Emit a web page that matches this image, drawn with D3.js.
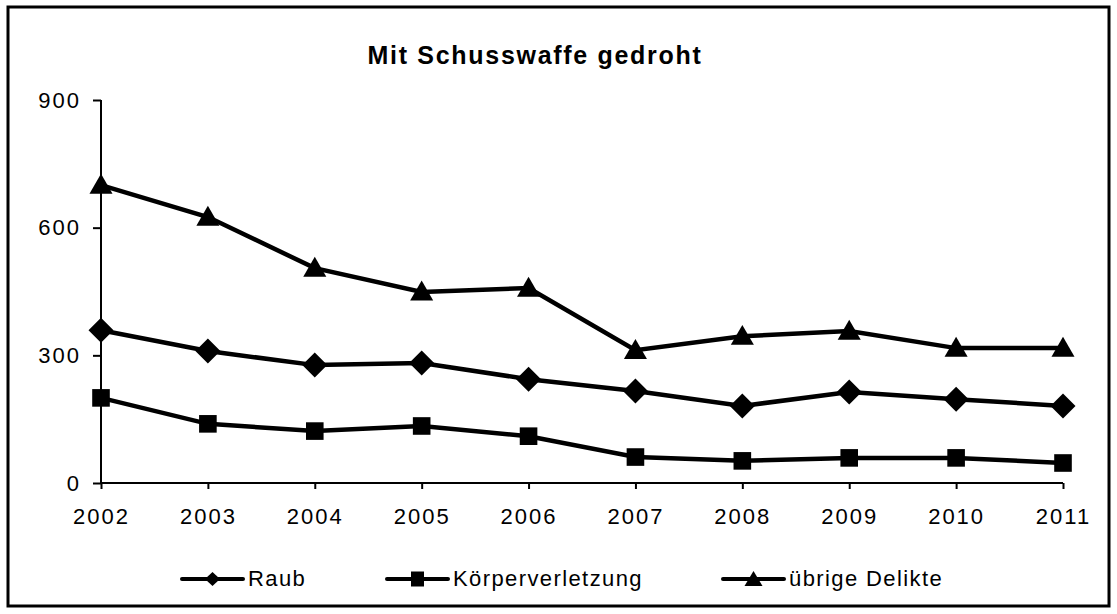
<!DOCTYPE html>
<html>
<head>
<meta charset="utf-8">
<script src="https://cdn.jsdelivr.net/npm/d3@7"></script>
<style>
  body { margin: 0; background: #fff; }
  svg text { font-family: "Liberation Sans", Arial, sans-serif; fill: #000; }
</style>
</head>
<body>
<div id="chart"></div>
<script>
var years = ["2002", "2003", "2004", "2005", "2006", "2007", "2008", "2009", "2010", "2011"];
var raub = [359, 310, 277, 282, 244, 216, 181, 214, 197, 181];
var koerperverletzung = [200, 139, 122, 134, 110, 61, 52, 59, 59, 47];
var uebrige = [700, 625, 505, 449, 458, 312, 345, 357, 317, 317];
var yTicks = [0, 300, 600, 900];

var series = [
    {name: "Raub", values: raub, symbol: "diamond"},
    {name: "Körperverletzung", values: koerperverletzung, symbol: "square"},
    {name: "übrige Delikte", values: uebrige, symbol: "triangle"}
];

var width = 1117, height = 614;
var svg = d3.select("#chart").append("svg")
    .attr("width", width)
    .attr("height", height);

svg.append("rect")
    .attr("x", 8).attr("y", 7)
    .attr("width", 1101).attr("height", 599)
    .attr("fill", "none")
    .attr("stroke", "#000")
    .attr("stroke-width", 3);

svg.append("text")
    .attr("x", 535).attr("y", 64)
    .attr("text-anchor", "middle")
    .attr("font-size", 25)
    .attr("font-weight", "bold")
    .attr("letter-spacing", 1.7)
    .text("Mit Schusswaffe gedroht");

var x = d3.scalePoint().domain(years).range([101, 1063]);
var y = d3.scaleLinear().domain([0, 900]).range([483, 100]);

var xAxis = svg.append("g")
    .attr("transform", "translate(0,483)")
    .call(d3.axisBottom(x).tickSize(6).tickPadding(19));
var yAxis = svg.append("g")
    .attr("transform", "translate(101,0)")
    .call(d3.axisLeft(y).tickValues(yTicks).tickSize(8).tickPadding(12));

[xAxis, yAxis].forEach(function(ax){
    ax.select(".domain").attr("stroke", "#000").attr("stroke-width", 2);
    ax.selectAll(".tick line").attr("stroke", "#000").attr("stroke-width", 2);
    ax.selectAll(".tick text")
        .attr("font-size", 22)
        .attr("letter-spacing", 2)
        .style("font-family", "'Liberation Sans', Arial, sans-serif");
});
// domain without end caps
xAxis.select(".domain").attr("d", "M101,0H1063");
yAxis.select(".domain").attr("d", "M0,100V483");

// diamond drawn as a square turned by 45 degrees
function diamondPath(r, ry) {
    return "M0," + (-ry) + "L" + r + ",0L0," + ry + "L" + (-r) + ",0Z";
}

var symbols = {
    diamond: diamondPath(12.5, 12.5),
    square: d3.symbol().type(d3.symbolSquare).size(310)(),
    triangle: d3.symbol().type(d3.symbolTriangle).size(230)()
};

var line = d3.line()
    .x(function(d, i){ return x(years[i]); })
    .y(function(d){ return y(d); });

series.forEach(function(s){
    var g = svg.append("g");
    g.append("path")
        .attr("d", line(s.values))
        .attr("fill", "none")
        .attr("stroke", "#000")
        .attr("stroke-width", 4.5);
    g.selectAll("path.pt")
        .data(s.values).enter().append("path")
        .attr("class", "pt")
        .attr("d", symbols[s.symbol])
        .attr("transform", function(d, i){
            var dy = s.symbol === "triangle" ? 2 : 0;
            return "translate(" + x(years[i]) + "," + (y(d) + dy) + ")";
        })
        .attr("fill", "#000");
});

// legend
var legendX = [182, 387, 723];
var legendY = 579;
var legendSymbols = {
    diamond: diamondPath(7.5, 7),
    square: "M-6.5,-7.5H6.5V7.5H-6.5Z",
    triangle: "M0,-8L9,7H-9Z"
};
series.forEach(function(s, i){
    var g = svg.append("g").attr("transform", "translate(" + legendX[i] + "," + legendY + ")");
    g.append("line")
        .attr("x1", 0).attr("x2", 61)
        .attr("stroke", "#000")
        .attr("stroke-width", 4)
        .attr("stroke-linecap", "round");
    g.append("path")
        .attr("d", legendSymbols[s.symbol])
        .attr("transform", "translate(30.5,0)")
        .attr("fill", "#000");
    g.append("text")
        .attr("x", 66).attr("y", 7)
        .attr("font-size", 22)
        .attr("letter-spacing", 1.4)
        .text(s.name);
});
</script>
</body>
</html>
